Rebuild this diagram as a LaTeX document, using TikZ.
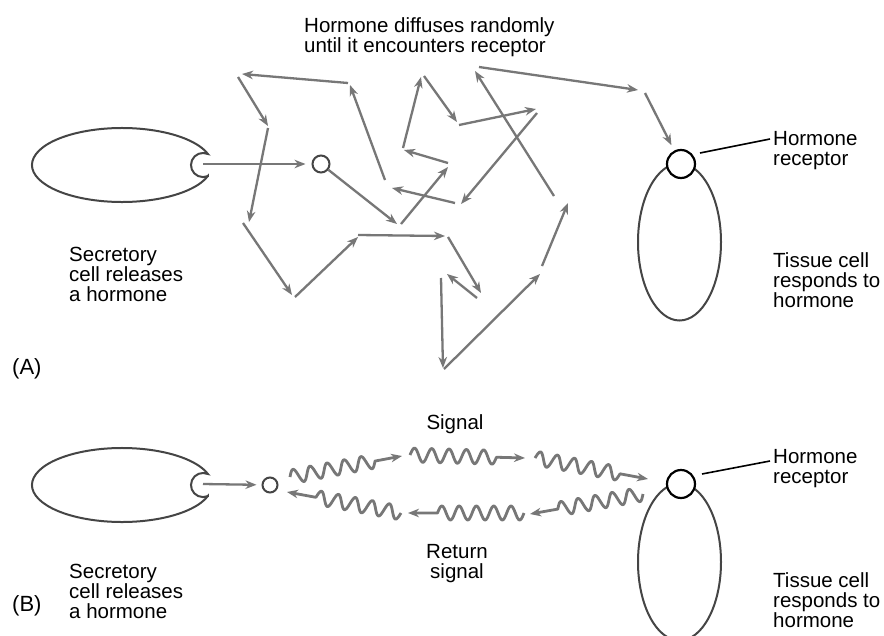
\documentclass[tikz,border=0pt]{standalone}
\usepackage{fontspec}
\setmainfont{Liberation Sans}
\usetikzlibrary{arrows.meta}
\definecolor{walkgray}{HTML}{777777}
\definecolor{cellgray}{HTML}{454545}
\begin{document}
\begin{tikzpicture}[x=1pt,y=-1pt,
  arrowhd/.style={-{Stealth[length=11pt,width=8.5pt,inset=3.5pt]}},
  walkarrow/.style={draw=walkgray,line width=2.3pt,arrowhd},
  sigline/.style={draw=walkgray,line width=2.8pt,arrowhd,line join=round},
  cellline/.style={draw=cellgray,line width=2pt},
  hormone/.style={circle,draw=cellgray,line width=2pt,fill=white,inner sep=0pt,minimum size=#1},
  receptor/.style={circle,draw=black,line width=2.2pt,fill=white,inner sep=0pt,minimum size=28pt},
  lbl/.style={font=\fontsize{20.5}{20}\selectfont,align=left,inner sep=0pt,anchor=north west},
  clbl/.style={lbl,align=center,anchor=north},
  plbl/.style={lbl,font=\fontsize{22}{22}\selectfont},
  pointer/.style={draw=black,line width=1.6pt}]
\useasboundingbox (0,0) rectangle (884,635);
\fill[white] (0,0) rectangle (884,635);

% ---------- cells (A at 0, B shifted by 320) ----------
\foreach \dy/\n in {0/A,320/B} {
  \begin{scope}[shift={(0,\dy)}]
    \draw[cellline] (207.9,176) arc[start angle=17.3,end angle=342.7,x radius=90,y radius=37]
      arc[start angle=-66.25,end angle=-293.75,radius=12.06] -- cycle;
    \draw[cellline] (679.5,242) ellipse[x radius=41.5,y radius=78.5];
    \node[receptor] (rec\n) at (681,164) {};
    \coordinate (mouth\n) at (203,164);
  \end{scope}
}

% receptor pointers
\coordinate (pAs) at (700,153); \coordinate (pAe) at (770,139);
\coordinate (pBs) at (702,474); \coordinate (pBe) at (770,461);
\draw[pointer] (pAs) -- (pAe);
\draw[pointer] (pBs) -- (pBe);

% ---------- (A) random walk ----------
\node[hormone=17pt] (hormA) at (321,164) {};
\draw[walkarrow,shorten >=6pt] (mouthA) -- (hormA);
\coordinate (e2) at (397,224);
\draw[walkarrow] (hormA) -- (e2);
\foreach [count=\i from 3] \sx/\sy/\ex/\ey in {
  401/224/448/167, 448/163/404/150, 403/148/421/77, 424/76/457/122,
  459/125/536/109, 537/113/461/204, 455/203/392/188, 385/180/350/85,
  348/83/242/74, 238/77/268/126, 268/128/249/222, 243/223/292/295,
  295/297/358/237, 358/235/445/236, 448/237/481/293, 477/298/447/274,
  441/278/443/368, 444/369/540/274, 542/266/568/203, 554/196/475/71,
  479/67/638/90} {
  \coordinate (s\i) at (\sx,\sy);
  \coordinate (e\i) at (\ex,\ey);
  \draw[walkarrow] (s\i) -- (e\i);
}
\coordinate (s24) at (645,93);
\draw[walkarrow,shorten >=6pt] (s24) -- (recA);

% ---------- (B) signals ----------
\node[hormone=15pt] (hormB) at (270,485) {};
\draw[walkarrow,shorten >=5pt] (mouthB) -- (hormB);
\coordinate (w1s) at (290,477);
\coordinate (w2s) at (410,455);
\coordinate (w3s) at (535,458);
\coordinate (w4s) at (643,494);
\coordinate (w5s) at (524,513);
\coordinate (w6s) at (401,513);
% each wave: start, direction angle, total length
\foreach \w/\ang/\len in {w1s/10.62/113.95, w2s/-1.49/115.04, w3s/-10.53/114.93,
                          w4s/-169.96/114.76, w5s/180/116, w6s/169.56/115.92} {
  \begin{scope}[shift={(\w)},rotate=\ang]
    \draw[sigline] plot[domain=0:86.5,samples=121,smooth] (\x,{-7*sin(\x/17.3*360)}) -- (\len,0);
  \end{scope}
}

% ---------- labels ----------
\node[lbl] (titleA) at (304,16) {\rule{0pt}{16pt}Hormone diffuses randomly\\until it encounters receptor};
\node[lbl] (secA) at (69,245) {\rule{0pt}{16pt}Secretory\\cell releases\\a hormone};
\node[lbl] (recAlbl) at (773,129) {\rule{0pt}{16pt}Hormone\\receptor};
\node[lbl] (tisA) at (773,251) {\rule{0pt}{16pt}Tissue cell\\responds to\\hormone};
\node[plbl] (labA) at (12,358) {\rule{0pt}{16pt}(A)};

\node[clbl] (sig) at (455,413) {\rule{0pt}{16pt}Signal};
\node[clbl] (ret) at (457,542) {\rule{0pt}{16pt}Return\\signal};
\node[lbl] (secB) at (69,562) {\rule{0pt}{16pt}Secretory\\cell releases\\a hormone};
\node[lbl] (recBlbl) at (773,447) {\rule{0pt}{16pt}Hormone\\receptor};
\node[lbl] (tisB) at (773,571) {\rule{0pt}{16pt}Tissue cell\\responds to\\hormone};
\node[plbl] (labB) at (12,595) {\rule{0pt}{16pt}(B)};
\end{tikzpicture}
\end{document}
